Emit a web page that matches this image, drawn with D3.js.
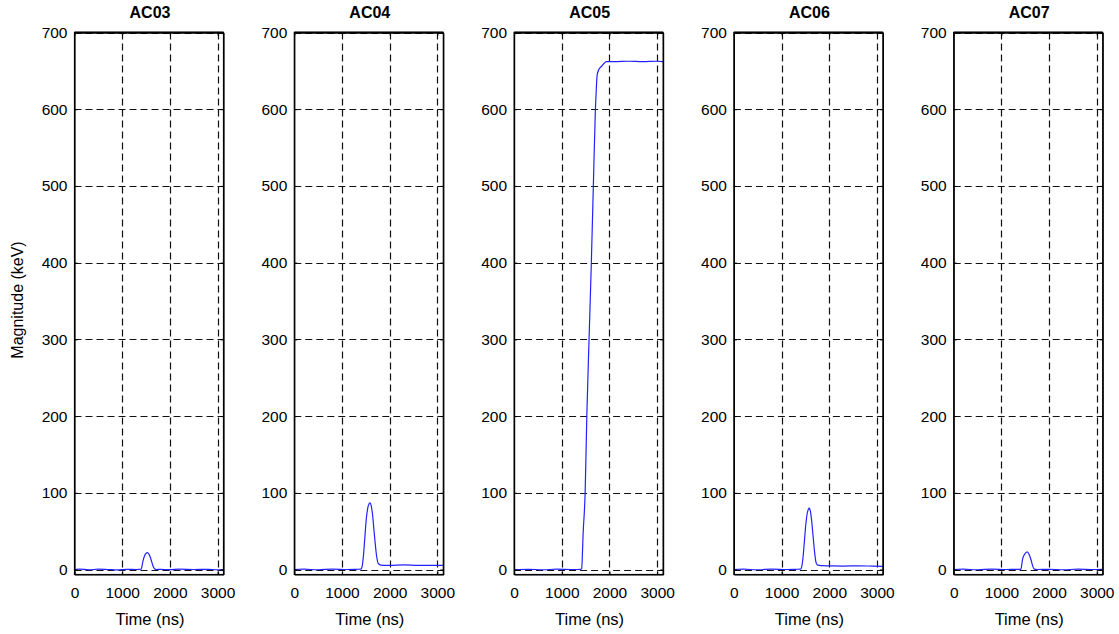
<!DOCTYPE html>
<html><head><meta charset="utf-8">
<script src="https://cdn.jsdelivr.net/npm/d3@7"></script>
<style>
body{margin:0;background:#fff}
svg{display:block;font-family:"Liberation Sans",Arial,Helvetica,sans-serif}
</style></head>
<body><svg id="chart" width="1119" height="634"></svg>
<script>
// ---------- data ----------
const channels = ["AC03", "AC04", "AC05", "AC06", "AC07"];
const xTicks = [0, 1000, 2000, 3000];
const yTicks = [0, 100, 200, 300, 400, 500, 600, 700];
const xLabel = "Time (ns)";
const yLabel = "Magnitude (keV)";

const timeAC03 = [0, 100, 300, 500, 700, 900, 1100, 1300, 1400, 1420, 1440, 1470, 1500, 1530, 1560, 1590, 1620, 1650, 1680, 1720, 1800, 2000, 2200, 2500, 2800, 3000, 3125];
const magAC03  = [0, 0.5, -0.3, 0.4, 0, -0.4, 0.3, 0, 0.5, 6, 12, 18, 21, 22, 20, 16, 10, 4, 1, 0, 0.3, -0.2, 0.4, 0, 0.3, -0.3, 0];

const timeAC04 = [0, 200, 500, 800, 1100, 1300, 1400, 1420, 1450, 1480, 1510, 1540, 1570, 1590, 1610, 1640, 1670, 1700, 1730, 1760, 1800, 1850, 2000, 2300, 2600, 2900, 3125];
const magAC04  = [0, 0.4, -0.3, 0.5, 0, 0.3, 0.5, 3, 18, 42, 66, 80, 86, 87, 84, 72, 52, 32, 16, 8, 6, 5.5, 5.5, 6, 5.5, 5.5, 5.5];

const timeAC05 = [0, 300, 600, 900, 1200, 1400, 1416, 1450, 1490, 1525, 1572, 1620, 1662, 1705, 1725, 1743, 1780, 1835, 1890, 1940, 2100, 2400, 2700, 3000, 3125];
const magAC05  = [0, 0.3, -0.3, 0.4, 0, 0.3, 1, 50, 100, 200, 300, 400, 500, 600, 628, 645, 652, 656, 660, 662, 662, 662.5, 662, 662.5, 662];

const timeAC06 = [0, 200, 500, 800, 1100, 1300, 1400, 1420, 1450, 1480, 1510, 1540, 1565, 1580, 1600, 1630, 1660, 1690, 1720, 1750, 1790, 1850, 2000, 2300, 2600, 2900, 3125];
const magAC06  = [0, 0.4, -0.3, 0.5, 0, 0.3, 0.5, 3, 16, 38, 60, 74, 79, 80, 77, 64, 44, 24, 10, 6, 5.5, 5, 4.8, 4.5, 4.8, 4.5, 4.2];

const timeAC07 = [0, 200, 500, 800, 1100, 1300, 1410, 1425, 1440, 1470, 1500, 1540, 1580, 1620, 1660, 1690, 1750, 2000, 2300, 2600, 2900, 3125];
const magAC07  = [0, 0.4, -0.3, 0.5, 0, 0.3, 0.3, 5, 12, 18, 21, 23, 20, 13, 4, 0.5, 0, 0.3, -0.3, 0.4, 0, 0.3];

const seriesTimes = [timeAC03, timeAC04, timeAC05, timeAC06, timeAC07];
const seriesMags  = [magAC03, magAC04, magAC05, magAC06, magAC07];

// ---------- layout ----------
const svg = d3.select("#chart");
svg.append("rect").attr("width", 1119).attr("height", 634).attr("fill", "#fff");

const firstLeft = 74.5, step = 219.8, pw = 149;
const plotTop = 32.5, plotBottom = 574.5;
const fs = 15.5;

const y = d3.scaleLinear().domain([-6.5, 700]).range([plotBottom, plotTop]);

channels.forEach((name, i) => {
  const L = firstLeft + i * step;
  const x = d3.scaleLinear().domain([0, 3125]).range([L, L + pw]);
  const g = svg.append("g");

  // grid
  g.append("g").selectAll("line").data(xTicks.filter(d => d > 0)).join("line")
    .attr("x1", d => Math.round(x(d)) + 0.5).attr("x2", d => Math.round(x(d)) + 0.5)
    .attr("y1", plotTop).attr("y2", plotBottom)
    .attr("stroke", "#111").attr("stroke-width", 1.2).attr("stroke-dasharray", "7,4");
  g.append("g").selectAll("line").data(yTicks).join("line")
    .attr("x1", L).attr("x2", L + pw)
    .attr("y1", d => Math.round(y(d)) + 0.5).attr("y2", d => Math.round(y(d)) + 0.5)
    .attr("stroke", "#111").attr("stroke-width", 1.2).attr("stroke-dasharray", "7,4");

  // data line
  const pts = seriesTimes[i].map((t, k) => [t, seriesMags[i][k]]);
  g.append("path").datum(pts)
    .attr("fill", "none").attr("stroke", "#2222ff").attr("stroke-width", 1.2)
    .attr("d", d3.line().x(d => x(d[0])).y(d => y(d[1])).curve(d3.curveMonotoneX));

  // axes (ticks inward)
  const ax = g.append("g").attr("transform", `translate(0,${plotBottom})`)
    .call(d3.axisBottom(x).tickValues(xTicks).tickFormat(d3.format("d")).tickSize(-3).tickPadding(12).tickSizeOuter(0));
  const ay = g.append("g").attr("transform", `translate(${L},0)`)
    .call(d3.axisLeft(y).tickValues(yTicks).tickFormat(d3.format("d")).tickSize(-3).tickPadding(7).tickSizeOuter(0));
  const axT = g.append("g").attr("transform", `translate(0,${plotTop})`)
    .call(d3.axisTop(x).tickValues(xTicks).tickSize(-3).tickFormat("").tickSizeOuter(0));
  const ayR = g.append("g").attr("transform", `translate(${L + pw},0)`)
    .call(d3.axisRight(y).tickValues(yTicks).tickSize(-3).tickFormat("").tickSizeOuter(0));
  [ax, ay, axT, ayR].forEach(a => {
    a.selectAll("path.domain").attr("stroke", "#000").attr("stroke-width", 1.2);
    a.selectAll(".tick line").attr("stroke", "#000");
    a.selectAll("text").attr("fill", "#000").style("font-size", fs + "px").style("font-family", '"Liberation Sans",Arial,sans-serif');
  });
  ax.selectAll("text").attr("dy", "0.71em");

  // frame
  g.append("rect").attr("x", L).attr("y", plotTop).attr("width", pw).attr("height", plotBottom - plotTop)
    .attr("fill", "none").attr("stroke", "#000").attr("stroke-width", 1.2);
  g.append("line").attr("x1", L).attr("x2", L + pw).attr("y1", plotTop).attr("y2", plotTop)
    .attr("stroke", "#000").attr("stroke-width", 2);

  // title
  g.append("text").attr("x", L + pw / 2 + 1).attr("y", 18).attr("text-anchor", "middle")
    .style("font-size", "16px").style("font-weight", "bold").text(name);
  // x label
  g.append("text").attr("x", L + pw / 2 + 1).attr("y", 625).attr("text-anchor", "middle")
    .style("font-size", "16.5px").text(xLabel);
});

svg.append("text").attr("transform", "translate(23,300) rotate(-90)").attr("text-anchor", "middle")
  .style("font-size", "16px").text(yLabel);
</script></body></html>
